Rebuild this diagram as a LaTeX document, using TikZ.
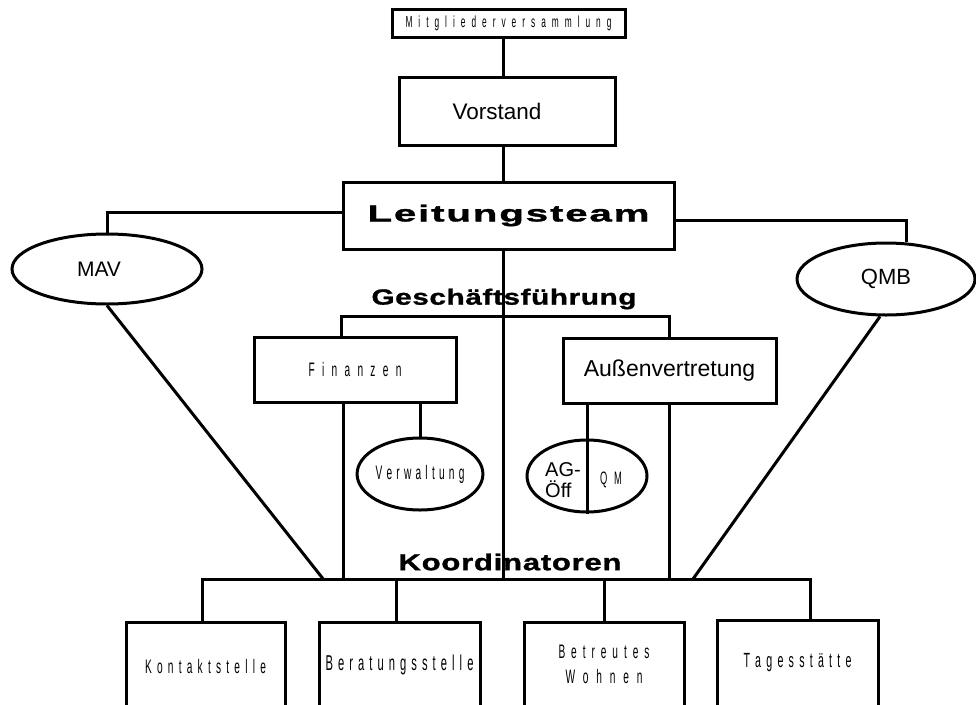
\documentclass[tikz,border=0pt]{standalone}
\usepackage{fontspec}
\setmainfont{Liberation Sans}
\newfontfamily\cond[FakeStretch=0.52]{Liberation Sans}
\newfontfamily\wideA[FakeStretch=1.75,FakeBold=1.6]{Liberation Sans}
\newfontfamily\wideB[FakeStretch=1.35,FakeBold=1.2]{Liberation Sans}
\usetikzlibrary{shapes.geometric}

\def\spreadaux#1{\ifx\relax#1\else\hfil#1\expandafter\spreadaux\fi}
\def\spreadstart#1{#1\spreadaux}
\newcommand\spread[2]{\makebox[#1][s]{\spreadstart#2\relax}}
\newcommand\ctext[3]{{\cond\fontsize{#1}{#1}\selectfont\spread{#2}{#3}}}

\tikzset{
  box/.style={draw, rectangle, inner sep=0pt, line width=3pt},
  oval/.style={draw, ellipse, inner sep=0pt, line width=3pt},
  lbl/.style={inner sep=0pt},
}

\begin{document}
\begin{tikzpicture}[x=1pt, y=-1pt, line width=3pt]
\useasboundingbox (0,0) rectangle (976,704);
\clip (0,0) rectangle (976,704);

% nodes
\node[box, minimum width=233pt, minimum height=28pt] (mv) at (508.5,23)
  {\ctext{16}{206pt}{Mitgliederversammlung}};
\node[box, minimum width=216pt, minimum height=68pt] (vorstand) at (507,111)
  {\fontsize{22.5}{24}\selectfont\hspace*{-20pt}Vorstand};
\node[box, minimum width=331pt, minimum height=67pt] (leitung) at (508.5,215.5)
  {\wideA\bfseries\fontsize{23}{24}\selectfont\spread{282pt}{Leitungsteam}};
\node[oval, minimum width=190pt, minimum height=70pt] (mav) at (107,269)
  {\fontsize{21}{22}\selectfont\hspace*{-16pt}MAV};
\node[oval, minimum width=178pt, minimum height=72pt] (qmb) at (886,279)
  {\fontsize{22}{23}\selectfont QMB};
\node[lbl] (gf) at (504,299)
  {\wideB\bfseries\fontsize{22}{23}\selectfont\spread{265pt}{Geschäftsführung}};
\node[box, minimum width=202pt, minimum height=65pt] (fin) at (355,369.5)
  {\ctext{19.5}{93pt}{Finanzen}};
\node[box, minimum width=213pt, minimum height=65pt] (aussen) at (669.5,370.5)
  {\fontsize{23}{24}\selectfont Außenvertretung};
\node[oval, minimum width=116pt, minimum height=72pt] (verw) at (420,474)
  {\ctext{19.5}{89pt}{Verwaltung}};
\node[oval, minimum width=120pt, minimum height=72pt] (agqm) at (587,476) {};
\node[lbl, align=left, font=\fontsize{20}{21}\selectfont] (agoff) at (563,480) {AG-\\Öff};
\node[lbl] (qm) at (611,480) {\ctext{18}{22pt}{QM}};
\node[lbl] (koord) at (510,562)
  {\wideB\bfseries\fontsize{23}{24}\selectfont\spread{223pt}{Koordinatoren}};

\node[box, minimum width=159pt, minimum height=90pt] (kontakt) at (205.5,667)
  {\ctext{19.5}{121pt}{Kontaktstelle}};
\node[box, minimum width=161pt, minimum height=86pt] (berat) at (399.5,665)
  {\ctext{21.5}{148pt}{Beratungsstelle}};
\node[box, minimum width=160pt, minimum height=84pt, align=center,
      font=\fontsize{19.5}{25}\selectfont] (betr) at (604,664)
  {\ctext{19.5}{91pt}{Betreutes}\\\ctext{19.5}{77pt}{Wohnen}};
\node[box, minimum width=161pt, minimum height=86pt] (tages) at (797.5,663)
  {\ctext{20.5}{108pt}{Tagesstätte}};

% helper coordinates
\coordinate (spine) at (503,0);
\coordinate (bus) at (0,579.5);
\coordinate (gfbar) at (0,316);
\coordinate (mavend) at (324,580);
\coordinate (qmbend) at (693,579);

% connectors
\draw (mv.south -| spine) -- (vorstand.north -| spine);
\draw (vorstand.south -| spine) -- (leitung.north -| spine);
\draw (leitung.south -| spine) -- (spine |- bus);
\draw ([yshift=3.5pt]leitung.west) -| (mav.north);
\draw ([yshift=-4.5pt]leitung.east) -| ([xshift=20pt]qmb.north);

\draw ([xshift=-14pt]fin.north) -- ([xshift=-14pt]fin.north |- gfbar)
  -- (aussen.north |- gfbar) -- (aussen.north);
\draw ([xshift=-12pt]fin.south) -- ([xshift=-12pt]fin.south |- bus);
\draw (verw.north) -- (verw.north |- fin.south);
\draw (aussen.south) -- (aussen.south |- bus);
\draw (agqm.south) -- (agqm.south |- aussen.south);

\draw (mav.south) -- (mavend);
\draw ([xshift=-6pt]qmb.south) -- (qmbend);

\draw ([xshift=-3.5pt]kontakt.north) -- ([xshift=-3.5pt]kontakt.north |- bus)
  -- ([xshift=12.5pt]tages.north |- bus) -- ([xshift=12.5pt]tages.north);
\draw ([xshift=-3.5pt]berat.north) -- ([xshift=-3.5pt]berat.north |- bus);
\draw (betr.north) -- (betr.north |- bus);
\end{tikzpicture}
\end{document}
